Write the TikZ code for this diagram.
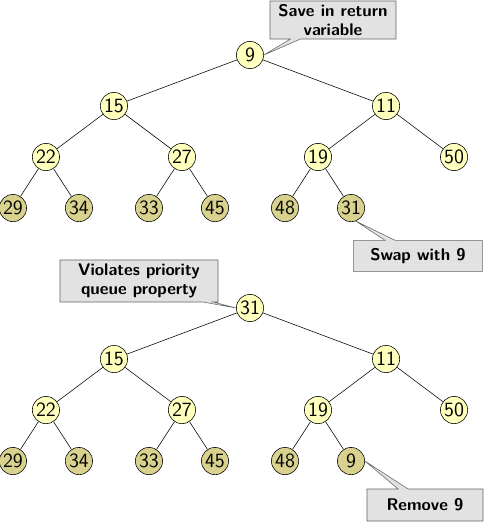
\documentclass[tikz,border=0pt]{standalone}
\usepackage{tikz}
\usetikzlibrary{shapes.callouts}
\definecolor{keyfill}{RGB}{255,255,190}
\definecolor{leaffill}{RGB}{216,210,142}
\definecolor{notefill}{RGB}{226,226,226}

\begin{document}
\begin{tikzpicture}[thin, x=0.025cm, y=-0.025cm,
  key/.style={circle,draw,minimum size=0.68cm,inner sep=0pt,fill=keyfill,font=\sffamily\Large},
  leaf/.style={key,fill=leaffill},
  note/.style={rectangle callout,draw=black!60,fill=notefill,align=center,
    font=\sffamily\bfseries\large,inner sep=2pt},
  level distance=1.275cm,
  level 1/.style={sibling distance=6.8cm},
  level 2/.style={sibling distance=3.4cm},
  level 3/.style={sibling distance=1.65cm}]

  \useasboundingbox (0,0) rectangle (485,524);

  % before the swap
  \node[key] (a9) at (250,55) {9}
    child{node[key] (a15) {15}
      child{node[key] (a22) {22}
        child{node[leaf] (a29) {29}}
        child{node[leaf] (a34) {34}}
      }
      child{node[key] (a27) {27}
        child{node[leaf] (a33) {33}}
        child{node[leaf] (a45) {45}}
      }
    }
    child{node[key] (a11) {11}
      child{node[key] (a19) {19}
        child{node[leaf] (a48) {48}}
        child{node[leaf] (a31) {31}}
      }
      child{node[key] (a50) {50}}
    };

  \node[note,minimum width=3.15cm,minimum height=0.95cm,
    callout absolute pointer={(a9.east)}] (save) at (333,20) {Save in return\\variable};
  \node[note,minimum width=3.22cm,minimum height=0.78cm,
    callout absolute pointer={(a31.-70)}] (swap) at (418,256) {Swap with 9};

  % after the swap
  \node[key] (b31) at (250,308) {31}
    child{node[key] (b15) {15}
      child{node[key] (b22) {22}
        child{node[leaf] (b29) {29}}
        child{node[leaf] (b34) {34}}
      }
      child{node[key] (b27) {27}
        child{node[leaf] (b33) {33}}
        child{node[leaf] (b45) {45}}
      }
    }
    child{node[key] (b11) {11}
      child{node[key] (b19) {19}
        child{node[leaf] (b48) {48}}
        child{node[leaf] (b9) {9}}
      }
      child{node[key] (b50) {50}}
    };

  \node[note,minimum width=3.95cm,minimum height=1.05cm,
    callout absolute pointer={(b31.west)}] (viol) at (139,281) {Violates priority\\queue property};
  \node[note,minimum width=2.9cm,minimum height=0.8cm,
    callout absolute pointer={(b9.east)}] (remove) at (425,505) {Remove 9};

\end{tikzpicture}
\end{document}
